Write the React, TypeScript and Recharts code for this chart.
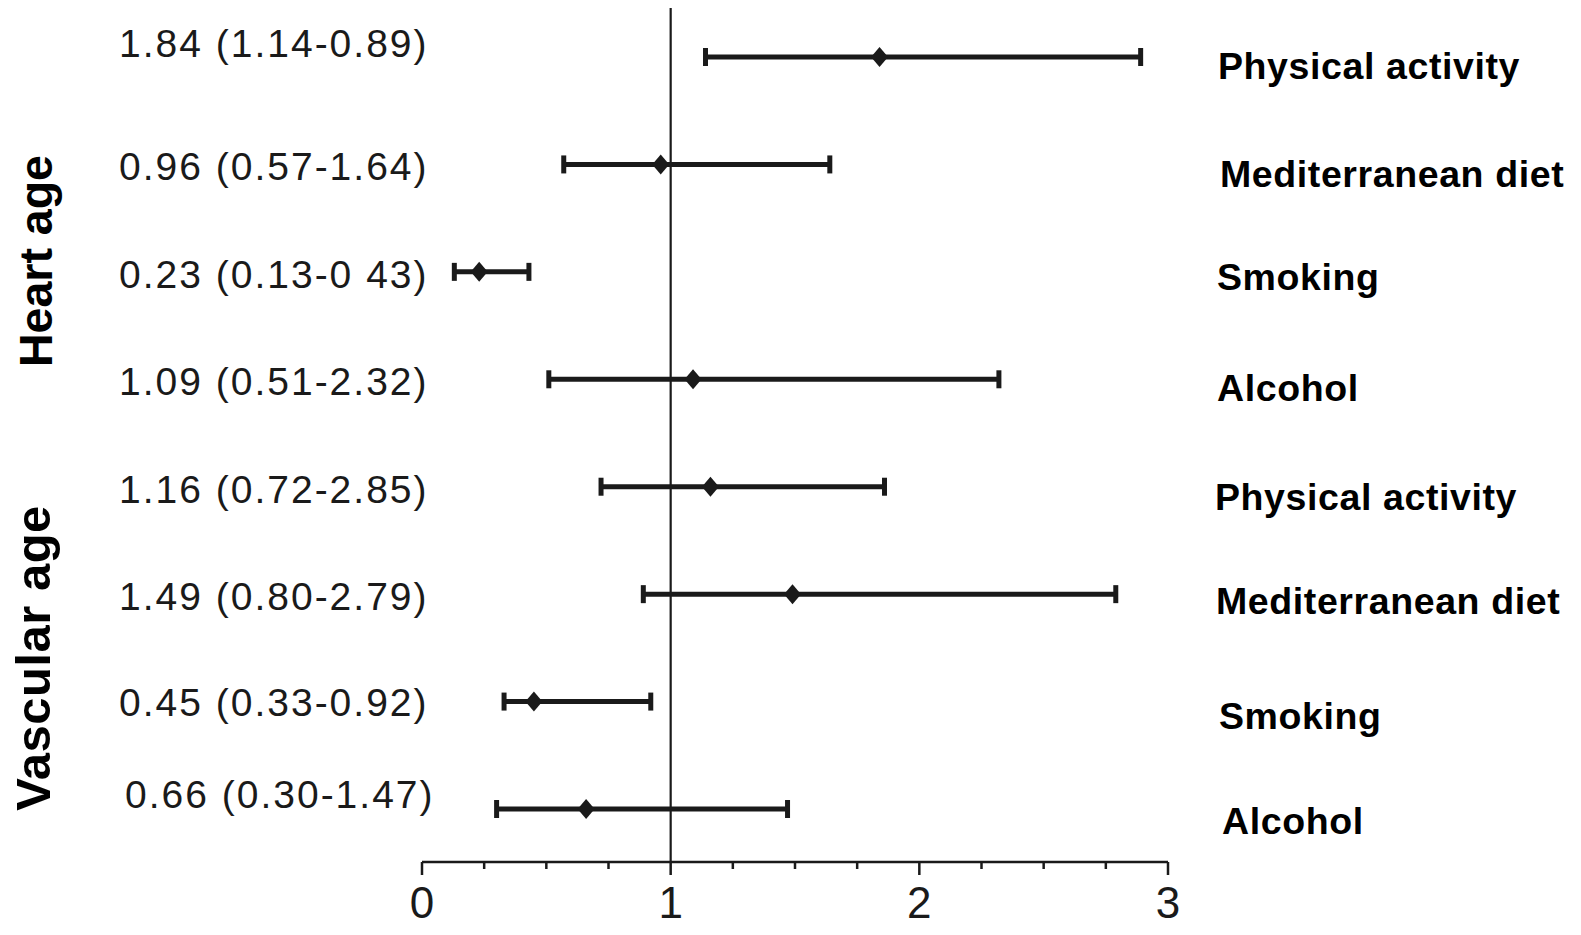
import React from 'react';
import { ScatterChart, Scatter, XAxis, YAxis, ErrorBar, ReferenceLine } from 'recharts';

// rows top to bottom
const factors = [
  'Physical activity',
  'Mediterranean diet',
  'Smoking',
  'Alcohol',
  'Physical activity',
  'Mediterranean diet',
  'Smoking',
  'Alcohol',
];
const estimates = [1.84, 0.96, 0.23, 1.09, 1.16, 1.49, 0.45, 0.66];
const lowerCI = [1.14, 0.57, 0.13, 0.51, 0.72, 0.89, 0.33, 0.3];
const upperCI = [2.89, 1.64, 0.43, 2.32, 1.86, 2.79, 0.92, 1.47];
// printed text, as it appears in the figure
const valueLabels = [
  '1.84 (1.14-0.89)',
  '0.96 (0.57-1.64)',
  '0.23 (0.13-0 43)',
  '1.09 (0.51-2.32)',
  '1.16 (0.72-2.85)',
  '1.49 (0.80-2.79)',
  '0.45 (0.33-0.92)',
  '0.66 (0.30-1.47)',
];
const groups = ['Heart age', 'Vascular age'];
const xTicks = [0, 0.25, 0.5, 0.75, 1, 1.25, 1.5, 1.75, 2, 2.25, 2.5, 2.75, 3];
const rowTicks = [0, 1, 2, 3, 4, 5, 6, 7];
const Y_DOMAIN: [number, number] = [-0.5306, 7.4933];

// small label nudges (px), per row
const leftNudge = [-14, 2, 2, 2, 2, 2, 0, -15];
const leftShift = [0, 0, 0, 0, 0, 0, 0, 6];
const rightNudge = [8, 9, 5, 8, 10, 6, 14, 11];
const rightShift = [1, 3, 0, 0, -2, -1, 2, 5];

const INK = '#1a1a1a';
const FONT = '"Liberation Sans", Arial, Helvetica, sans-serif';
const W = 1581;
const H = 935;

const data = estimates.map((est, i) => ({
  x: est,
  y: i,
  err: [est - lowerCI[i], upperCI[i] - est],
}));

const RowTick = ({ y, payload }: any) => {
  const i = payload.value;
  return (
    <g>
      <text
        x={119 + leftShift[i]}
        y={y + leftNudge[i]}
        dy="0.36em"
        fill={INK}
        fontSize={39}
        letterSpacing={2}
        fontFamily={FONT}
        textAnchor="start"
      >
        {valueLabels[i]}
      </text>
      <text
        x={1217 + rightShift[i]}
        y={y + rightNudge[i]}
        dy="0.36em"
        fill="#000"
        fontSize={37.5}
        fontWeight="bold"
        letterSpacing={0.6}
        fontFamily={FONT}
        textAnchor="start"
      >
        {factors[i]}
      </text>
    </g>
  );
};

const XTick = ({ x, y, payload }: any) => {
  const v = payload.value;
  const major = Number.isInteger(v);
  return (
    <g>
      <line x1={x} x2={x} y1={y} y2={y + (major ? 13 : 7)} stroke={INK} strokeWidth={2.5} />
      {major && (
        <text x={x} y={y + 56} fill={INK} fontSize={44} fontFamily={FONT} textAnchor="middle">
          {v}
        </text>
      )}
    </g>
  );
};

const Diamond = (props: any) => {
  const { cx, cy } = props;
  return (
    <polygon
      points={`${cx},${cy - 10} ${cx + 8.5},${cy} ${cx},${cy + 10} ${cx - 8.5},${cy}`}
      fill={INK}
    />
  );
};

export default function App() {
  return (
    <div
      style={{
        position: 'relative',
        margin: '-8px 0 -8px -8px',
        width: W,
        height: H,
        overflow: 'hidden',
        background: '#fff',
      }}
    >
      <ScatterChart width={W} height={H} margin={{ top: 0, right: 413, left: 0, bottom: 0 }}>
        <XAxis
          type="number"
          dataKey="x"
          domain={[0, 3]}
          ticks={xTicks}
          interval={0}
          height={73}
          tickSize={0}
          tickMargin={0}
          tickLine={false}
          axisLine={{ stroke: INK, strokeWidth: 2.5 }}
          tick={<XTick />}
        />
        <YAxis
          type="number"
          dataKey="y"
          domain={Y_DOMAIN}
          reversed
          ticks={rowTicks}
          interval={0}
          width={422}
          axisLine={false}
          tickLine={false}
          tick={<RowTick />}
        />
        <ReferenceLine
          segment={[
            { x: 1, y: -0.62 },
            { x: 1, y: Y_DOMAIN[1] },
          ]}
          ifOverflow="visible"
          stroke={INK}
          strokeWidth={2.2}
        />
        <Scatter data={data} shape={<Diamond />} isAnimationActive={false}>
          <ErrorBar dataKey="err" direction="x" width={9} stroke={INK} strokeWidth={5} />
        </Scatter>
      </ScatterChart>
      <svg width={W} height={H} style={{ position: 'absolute', left: 0, top: 0, pointerEvents: 'none' }}>
        <text
          transform="translate(52,261) rotate(-90)"
          textAnchor="middle"
          fontSize={46.5}
          fontWeight="bold"
          fontFamily={FONT}
          fill="#000"
        >
          {groups[0]}
        </text>
        <text
          transform="translate(50,658) rotate(-90)"
          textAnchor="middle"
          fontSize={49}
          fontWeight="bold"
          letterSpacing={0.5}
          fontFamily={FONT}
          fill="#000"
        >
          {groups[1]}
        </text>
      </svg>
    </div>
  );
}
